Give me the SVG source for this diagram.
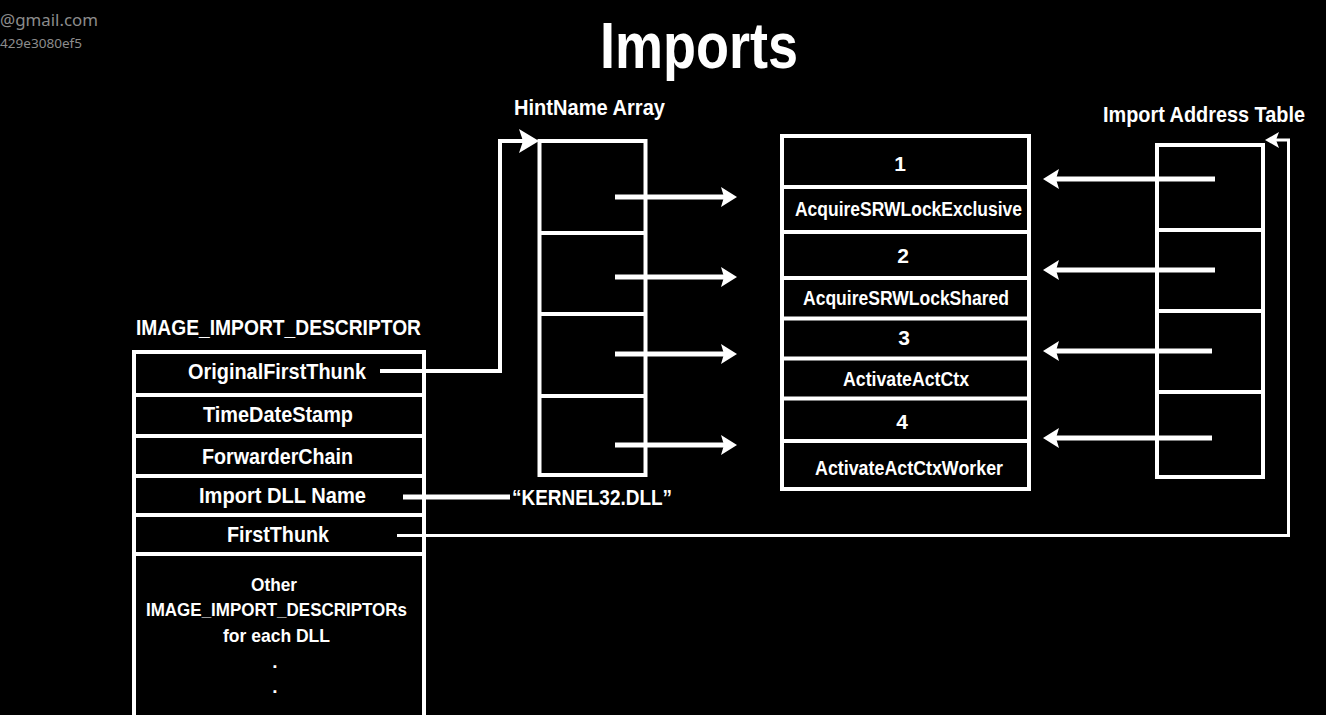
<svg xmlns="http://www.w3.org/2000/svg" width="1326" height="715" viewBox="0 0 1326 715">
<style>
text{font-family:"Liberation Sans Narrow","Liberation Sans",Arial,sans-serif;font-weight:bold;fill:#fff}
.c{text-anchor:middle}
.wm{font-family:"Noto Sans","Open Sans",sans-serif;font-weight:normal;fill:#8c8c8c;text-anchor:end}
.box{fill:none;stroke:#fff;stroke-width:4}
.div{stroke:#fff;stroke-width:4}
.th{fill:none;stroke:#fff;stroke-width:5}
.tn{fill:none;stroke:#fff;stroke-width:4}
.t3{fill:none;stroke:#fff;stroke-width:3}
</style>
<defs>
<marker id="ah" viewBox="0 0 16 20" refX="6" refY="10" markerWidth="16" markerHeight="20" markerUnits="userSpaceOnUse" orient="auto">
<path d="M0,0 L16,10 L0,20 L3,10 z" fill="#fff"/>
</marker>
<marker id="ahL" viewBox="0 0 20 24" refX="8" refY="12" markerWidth="20" markerHeight="24" markerUnits="userSpaceOnUse" orient="auto">
<path d="M0,0 L20,12 L0,24 L4,12 z" fill="#fff"/>
</marker>
<marker id="ahS" viewBox="0 0 14 16" refX="5" refY="8" markerWidth="14" markerHeight="16" markerUnits="userSpaceOnUse" orient="auto">
<path d="M0,0 L14,8 L0,16 L3,8 z" fill="#fff"/>
</marker>
</defs>
<rect width="1326" height="715" fill="#000"/>

<g id="watermark">
<text class="wm" x="98" y="26" font-size="17" textLength="98" lengthAdjust="spacingAndGlyphs">@gmail.com</text>
<text class="wm" x="82" y="48" font-size="12.5" textLength="82" lengthAdjust="spacingAndGlyphs">429e3080ef5</text>
</g>

<g id="title">
<text class="c" x="699" y="68" font-size="64" textLength="198" lengthAdjust="spacingAndGlyphs">Imports</text>
</g>

<g id="descriptor">
<text class="c" x="278.5" y="335" font-size="22" textLength="285" lengthAdjust="spacingAndGlyphs">IMAGE_IMPORT_DESCRIPTOR</text>
<rect class="box" x="134" y="352" width="290" height="380"/>
<line class="div" x1="134" y1="395" x2="424" y2="395"/>
<line class="div" x1="134" y1="436" x2="424" y2="436"/>
<line class="div" x1="134" y1="476" x2="424" y2="476"/>
<line class="div" x1="134" y1="515" x2="424" y2="515"/>
<line class="div" x1="134" y1="554" x2="424" y2="554"/>
<text class="c" x="277" y="379" font-size="22" textLength="178" lengthAdjust="spacingAndGlyphs">OriginalFirstThunk</text>
<text class="c" x="278" y="422" font-size="22" textLength="150" lengthAdjust="spacingAndGlyphs">TimeDateStamp</text>
<text class="c" x="277.5" y="464" font-size="22" textLength="151" lengthAdjust="spacingAndGlyphs">ForwarderChain</text>
<text class="c" x="282.5" y="503" font-size="22" textLength="167" lengthAdjust="spacingAndGlyphs">Import DLL Name</text>
<text class="c" x="278" y="542" font-size="22" textLength="102" lengthAdjust="spacingAndGlyphs">FirstThunk</text>
<text class="c" x="274" y="591" font-size="19" textLength="46" lengthAdjust="spacingAndGlyphs">Other</text>
<text class="c" x="276.5" y="616" font-size="19" textLength="261" lengthAdjust="spacingAndGlyphs">IMAGE_IMPORT_DESCRIPTORs</text>
<text class="c" x="276.5" y="642" font-size="19" textLength="107" lengthAdjust="spacingAndGlyphs">for each DLL</text>
<text class="c" x="275" y="668" font-size="19">.</text>
<text class="c" x="275" y="693" font-size="19">.</text>
</g>

<g id="hintname">
<text x="514" y="115" font-size="22" textLength="151" lengthAdjust="spacingAndGlyphs">HintName Array</text>
<rect class="box" x="539.5" y="141" width="106" height="334"/>
<line class="div" x1="539.5" y1="233" x2="645.5" y2="233"/>
<line class="div" x1="539.5" y1="314" x2="645.5" y2="314"/>
<line class="div" x1="539.5" y1="396" x2="645.5" y2="396"/>
</g>

<g id="names">
<rect class="box" x="782" y="136" width="247" height="353"/>
<line class="div" x1="782" y1="187" x2="1029" y2="187"/>
<line class="div" x1="782" y1="232" x2="1029" y2="232"/>
<line class="div" x1="782" y1="278" x2="1029" y2="278"/>
<line class="div" x1="782" y1="318.5" x2="1029" y2="318.5"/>
<line class="div" x1="782" y1="358.5" x2="1029" y2="358.5"/>
<line class="div" x1="782" y1="398.5" x2="1029" y2="398.5"/>
<line class="div" x1="782" y1="441" x2="1029" y2="441"/>
<text class="c" x="900" y="171" font-size="21">1</text>
<text class="c" x="908.5" y="216" font-size="20" textLength="227" lengthAdjust="spacingAndGlyphs">AcquireSRWLockExclusive</text>
<text class="c" x="903" y="263" font-size="21">2</text>
<text class="c" x="906" y="305" font-size="20" textLength="206" lengthAdjust="spacingAndGlyphs">AcquireSRWLockShared</text>
<text class="c" x="904" y="345" font-size="21">3</text>
<text class="c" x="906" y="386" font-size="20" textLength="126" lengthAdjust="spacingAndGlyphs">ActivateActCtx</text>
<text class="c" x="902" y="429" font-size="21">4</text>
<text class="c" x="909" y="475" font-size="20" textLength="188" lengthAdjust="spacingAndGlyphs">ActivateActCtxWorker</text>
</g>

<g id="iat">
<text x="1103" y="122" font-size="22" textLength="202" lengthAdjust="spacingAndGlyphs">Import Address Table</text>
<rect class="box" x="1157" y="145" width="106" height="332"/>
<line class="div" x1="1157" y1="230" x2="1263" y2="230"/>
<line class="div" x1="1157" y1="311" x2="1263" y2="311"/>
<line class="div" x1="1157" y1="392" x2="1263" y2="392"/>
</g>

<g id="kernel32">
<text x="512" y="505" font-size="22" textLength="160" lengthAdjust="spacingAndGlyphs">“KERNEL32.DLL”</text>
</g>

<g id="connectors">
<path class="tn" d="M380,371 H500 V141 H527" marker-end="url(#ahL)"/>
<line class="th" x1="615" y1="197" x2="727" y2="197" marker-end="url(#ah)"/>
<line class="th" x1="615" y1="277" x2="727" y2="277" marker-end="url(#ah)"/>
<line class="th" x1="615" y1="354" x2="727" y2="354" marker-end="url(#ah)"/>
<line class="th" x1="615" y1="445" x2="727" y2="445" marker-end="url(#ah)"/>
<line class="th" x1="1215" y1="179" x2="1053" y2="179" marker-end="url(#ah)"/>
<line class="th" x1="1215" y1="270" x2="1053" y2="270" marker-end="url(#ah)"/>
<line class="th" x1="1212" y1="351" x2="1053" y2="351" marker-end="url(#ah)"/>
<line class="th" x1="1212" y1="438" x2="1053" y2="438" marker-end="url(#ah)"/>
<line class="th" x1="403" y1="497" x2="510" y2="497"/>
<path class="t3" d="M397,535.5 H1288.5 V140 H1274" marker-end="url(#ahS)"/>
</g>
</svg>
